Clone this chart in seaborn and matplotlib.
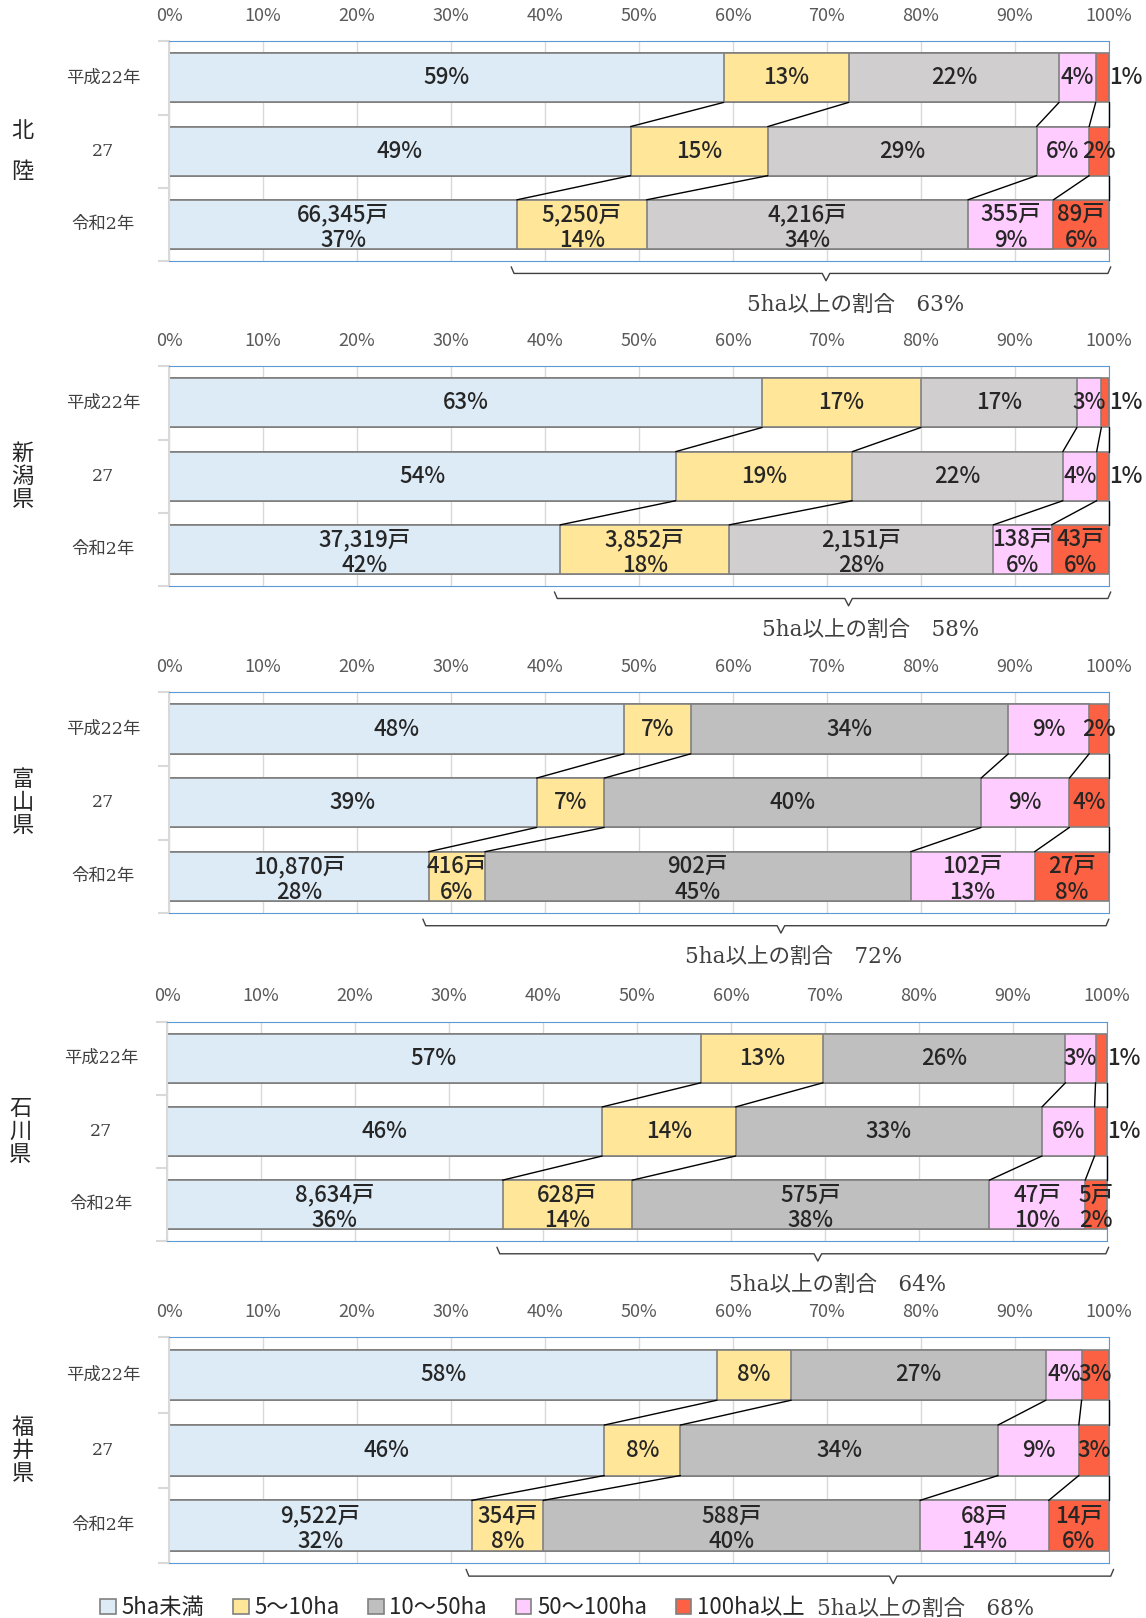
import numpy as np
import pandas as pd
import matplotlib
matplotlib.use('Agg')
import matplotlib.pyplot as plt
import seaborn as sns
from matplotlib.patches import Patch

# categories
years = ['平成22年', '27', '令和2年']
classes = ['5ha未満', '5〜10ha', '10〜50ha', '50〜100ha', '100ha以上']
regions = ['北陸', '新潟県', '富山県', '石川県', '福井県']

# area shares (%) per year
hokuriku = [[59.0, 13.3, 22.4, 3.9, 1.4],
            [49.1, 14.6, 28.6, 5.6, 2.1],
            [37.0, 13.8, 34.2, 9.1, 5.9]]
niigata = [[63.1, 16.9, 16.6, 2.6, 0.8],
           [53.9, 18.8, 22.4, 3.6, 1.3],
           [41.6, 18.0, 28.1, 6.2, 6.1]]
toyama = [[48.4, 7.1, 33.8, 8.6, 2.1],
          [39.1, 7.2, 40.1, 9.4, 4.2],
          [27.6, 6.0, 45.3, 13.2, 7.9]]
ishikawa = [[56.8, 13.0, 25.8, 3.2, 1.2],
            [46.3, 14.2, 32.6, 5.6, 1.3],
            [35.7, 13.8, 38.0, 10.2, 2.3]]
fukui = [[58.3, 7.9, 27.1, 3.8, 2.9],
         [46.3, 8.1, 33.8, 8.6, 3.2],
         [32.2, 7.6, 40.1, 13.7, 6.4]]

# number of farms (戸) in 令和2年
hokuriku_farms = [66345, 5250, 4216, 355, 89]
niigata_farms = [37319, 3852, 2151, 138, 43]
toyama_farms = [10870, 416, 902, 102, 27]
ishikawa_farms = [8634, 628, 575, 47, 5]
fukui_farms = [9522, 354, 588, 68, 14]

all_shares = [hokuriku, niigata, toyama, ishikawa, fukui]
all_farms = [hokuriku_farms, niigata_farms, toyama_farms, ishikawa_farms, fukui_farms]

sns.set_style('white')
plt.rcParams['font.family'] = ['Noto Sans CJK JP', 'DejaVu Sans']
serif = ['DejaVu Serif', 'Noto Sans CJK JP']

light_gray = '#D0CECE'
mid_gray = '#BFBFBF'
base_colors = ['#DDEBF7', '#FFE699', mid_gray, '#FFCCFF', '#FB6142']
edge = '#808080'
bar_h = 0.67

fig = plt.figure(figsize=(11.46, 16.18), dpi=100)

# (left, bottom, width, height) in figure fraction
rects = [(0.1476, 0.8387, 0.820, 0.1358),
         (0.1476, 0.6378, 0.820, 0.1358),
         (0.1476, 0.4356, 0.820, 0.1365),
         (0.1458, 0.2328, 0.820, 0.1358),
         (0.1476, 0.0338, 0.820, 0.1397)]
brace_ends = [100.2, 100.2, 100.0, 100.2, 100.5]
brace_tip_shift = [1.6, 1.7, 1.6, 1.6, 11.0]
brace_text_shift = [3.2, 2.4, 1.4, 2.1, 3.4]

for p, (rect, shares, farms, region) in enumerate(zip(rects, all_shares, all_farms, regions)):
    ax = fig.add_axes(rect)
    colors = list(base_colors)
    if p < 2:
        colors[2] = light_gray

    df = pd.DataFrame(shares, index=years, columns=classes)
    cum = df.cumsum(axis=1)
    plot_df = cum.reset_index().rename(columns={'index': 'year'})

    # overlay cumulative bars, widest first
    for k in reversed(range(len(classes))):
        sns.barplot(data=plot_df, x=classes[k], y='year', order=years, color=colors[k],
                    saturation=1, width=bar_h, edgecolor=edge, linewidth=1.2,
                    errorbar=None, ax=ax, zorder=2)

    ax.set_xlim(0, 100)
    ax.set_ylim(2.5, -0.5)
    ax.set_xlabel('')
    ax.set_ylabel('')
    ax.set_axisbelow(True)
    ax.xaxis.grid(True, color='#D9D9D9', lw=1)
    ax.yaxis.grid(False)

    ax.xaxis.tick_top()
    ax.set_xticks(range(0, 101, 10))
    ax.set_xticklabels([f'{v}%' for v in range(0, 101, 10)])
    ax.tick_params(axis='x', length=0, labelsize=13, labelcolor='#595959', pad=12)
    ax.set_yticks([])
    ax.set_yticks([-0.5, 0.5, 1.5, 2.5], minor=True)
    ax.tick_params(axis='y', which='minor', left=True, length=8, width=1.5, color='#D9D9D9')

    for s in ['top', 'right', 'bottom']:
        ax.spines[s].set_color('#5B9BD5')
        ax.spines[s].set_linewidth(0.8)
    ax.spines['left'].set_color('#D9D9D9')
    ax.spines['left'].set_linewidth(1.5)

    # data labels
    for i in range(len(years)):
        left = 0
        for k in range(len(classes)):
            w = shares[i][k]
            pct = f'{round(w)}%'
            xc = left + w / 2
            if i == 2:
                ax.text(xc, i + 0.04, f'{farms[k]:,}戸\n{pct}', ha='center', va='center',
                        fontsize=16, fontweight='medium', linespacing=1.15, zorder=5)
            else:
                if w < 1.5:
                    xc = 101.8
                ax.text(xc, i, pct, ha='center', va='center', fontsize=16,
                        fontweight='medium', zorder=5, clip_on=False)
            left += w

    # connector lines between bars
    for i in range(len(years) - 1):
        for k in range(len(classes)):
            ax.plot([cum.iloc[i, k], cum.iloc[i + 1, k]], [i + bar_h / 2, i + 1 - bar_h / 2],
                    color='black', lw=1, clip_on=False, zorder=3)

    # year labels
    for i, yr in enumerate(years):
        ax.text(-0.07, i, yr, transform=ax.get_yaxis_transform(), ha='center', va='center',
                fontsize=12.5, color='#404040', family=serif)

    # region label (vertical)
    if len(region) == 2:
        ax.text(-0.156, 1, '\n'.join(region), transform=ax.get_yaxis_transform(),
                ha='center', va='center', fontsize=16, linespacing=2.0)
    else:
        ax.text(-0.156, 1, '\n'.join(region), transform=ax.get_yaxis_transform(),
                ha='center', va='center', fontsize=16, linespacing=1.0)

    # brace for share of 5ha and above
    x0 = cum.iloc[2, 0] - 0.6
    x1 = brace_ends[p]
    xm = (x0 + x1) / 2 + brace_tip_shift[p]
    bx = [x0, x0 + 0.3, xm - 0.4, xm, xm + 0.4, x1 - 0.3, x1]
    by = [2.58, 2.67, 2.67, 2.77, 2.67, 2.67, 2.58]
    ax.plot(bx, by, color='#404040', lw=1, clip_on=False)
    over5 = 100 - shares[2][0]
    ax.text(xm + brace_text_shift[p], 3.1, f'5ha以上の割合　{round(over5)}%', ha='center',
            va='center', fontsize=15.5, color='#404040', family=serif, clip_on=False)

handles = [Patch(facecolor=c, edgecolor=edge, linewidth=1.2) for c in base_colors]
fig.legend(handles, classes, loc='center left', bbox_to_anchor=(0.07, 0.0064), ncol=5,
           frameon=False, fontsize=16, handlelength=0.7, handleheight=0.7,
           handletextpad=0.25, columnspacing=1.3)

fig.savefig('out.png', dpi=100)
